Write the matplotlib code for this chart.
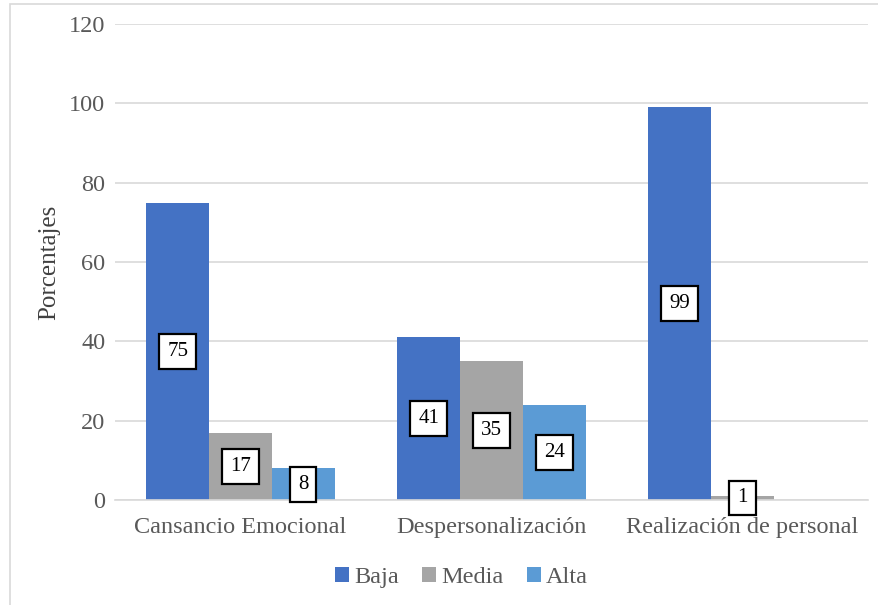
import matplotlib.pyplot as plt
import matplotlib.patches as mpatches
import numpy as np

categories = ["Cansancio Emocional", "Despersonalización", "Realización de personal"]
series = ["Baja", "Media", "Alta"]
baja = [75, 41, 99]
media = [17, 35, 1]
alta = [8, 24, 0]
colors = ["#4472C4", "#A5A5A5", "#5B9BD5"]

plt.rcParams["font.family"] = ["Liberation Serif", "DejaVu Serif"]

fig = plt.figure(figsize=(8.79, 6.05), dpi=100)
ax = fig.add_axes([0.1308, 0.1736, 0.8567, 0.7867])

# light frame around the chart area
fig.patches.append(mpatches.Rectangle((0.011, -0.05), 1.2, 1.043, transform=fig.transFigure,
                                      fill=False, edgecolor="#D9D9D9", linewidth=1.2))

x = np.arange(len(categories))
w = 0.25
for i, (name, vals) in enumerate(zip(series, [baja, media, alta])):
    pos = x + (i - 1) * w
    bars = ax.bar(pos, vals, w, color=colors[i], label=name, zorder=2)
    for b, v in zip(bars, vals):
        if v <= 0:
            continue
        ax.text(b.get_x() + b.get_width() / 2, v / 2, str(v), ha="center", va="center",
                fontsize=15, color="black", zorder=4,
                bbox=dict(boxstyle="square,pad=0.38", facecolor="white", edgecolor="black", linewidth=1.6))

ax.set_xlim(-0.5, 2.5)
ax.set_ylim(0, 120)
ax.set_yticks(range(0, 121, 20))
ax.set_xticks(x)
ax.set_xticklabels(categories)
ax.grid(axis="y", color="#D9D9D9", linewidth=1.2, zorder=0)
for s in ["top", "right", "left"]:
    ax.spines[s].set_visible(False)
ax.spines["bottom"].set_color("#D9D9D9")
ax.spines["bottom"].set_linewidth(1.2)
ax.tick_params(axis="x", length=0, labelsize=17.5, colors="#595959", pad=12)
ax.tick_params(axis="y", length=0, labelsize=17.5, colors="#595959", pad=7)
ax.set_ylabel("Porcentajes", fontsize=18, color="#404040", labelpad=6)

ax.legend(loc="upper center", bbox_to_anchor=(0.46, -0.095), ncol=3, frameon=False,
          fontsize=17.5, labelcolor="#595959", handlelength=0.6, handleheight=0.6,
          handletextpad=0.2, columnspacing=0.95)

fig.savefig("out.png", dpi=100)
